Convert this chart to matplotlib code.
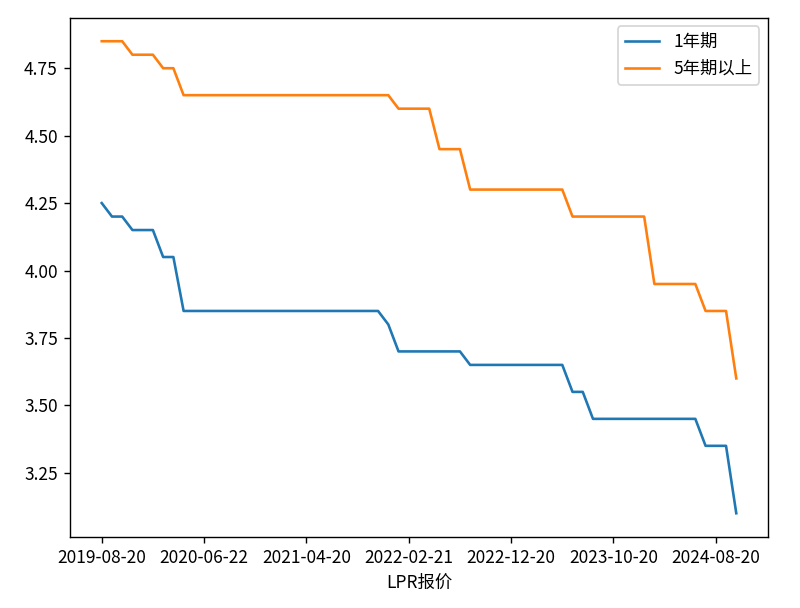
import matplotlib
matplotlib.use("Agg")
import matplotlib.pyplot as plt

plt.rcParams['font.family'] = ['Noto Sans CJK SC', 'DejaVu Sans']
plt.rcParams['axes.unicode_minus'] = False

# LPR报价日期
dates = [
    "2019-08-20", "2019-09-20", "2019-10-21", "2019-11-20", "2019-12-20",
    "2020-01-20", "2020-02-20", "2020-03-20", "2020-04-20", "2020-05-20",
    "2020-06-22", "2020-07-20", "2020-08-20", "2020-09-21", "2020-10-20",
    "2020-11-20", "2020-12-21", "2021-01-20", "2021-02-20", "2021-03-22",
    "2021-04-20", "2021-05-20", "2021-06-21", "2021-07-20", "2021-08-20",
    "2021-09-22", "2021-10-20", "2021-11-22", "2021-12-20", "2022-01-20",
    "2022-02-21", "2022-03-21", "2022-04-20", "2022-05-20", "2022-06-20",
    "2022-07-20", "2022-08-22", "2022-09-20", "2022-10-20", "2022-11-21",
    "2022-12-20", "2023-01-20", "2023-02-20", "2023-03-20", "2023-04-20",
    "2023-05-22", "2023-06-20", "2023-07-20", "2023-08-21", "2023-09-20",
    "2023-10-20", "2023-11-20", "2023-12-20", "2024-01-22", "2024-02-20",
    "2024-03-20", "2024-04-22", "2024-05-20", "2024-06-20", "2024-07-22",
    "2024-08-20", "2024-09-20", "2024-10-21",
]

lpr_1y = (
    [4.25, 4.20, 4.20, 4.15, 4.15, 4.15, 4.05, 4.05]
    + [3.85] * 20
    + [3.80]
    + [3.70] * 7
    + [3.65] * 10
    + [3.55, 3.55]
    + [3.45] * 11
    + [3.35, 3.35, 3.35, 3.10]
)

lpr_5y = (
    [4.85, 4.85, 4.85, 4.80, 4.80, 4.80, 4.75, 4.75]
    + [4.65] * 21
    + [4.60] * 4
    + [4.45] * 3
    + [4.30] * 10
    + [4.20] * 8
    + [3.95] * 5
    + [3.85, 3.85, 3.85, 3.60]
)

fig = plt.figure(figsize=(6.4, 4.864), dpi=125)
ax = fig.add_axes([0.0875, 0.117, 0.8725, 0.854])
ax.plot(dates, lpr_1y, label="1年期")
ax.plot(dates, lpr_5y, label="5年期以上")
ax.set_xticks(range(0, len(dates), 10))
ax.set_xlabel("LPR报价")
ax.legend()
fig.savefig("out.png", dpi=125)
